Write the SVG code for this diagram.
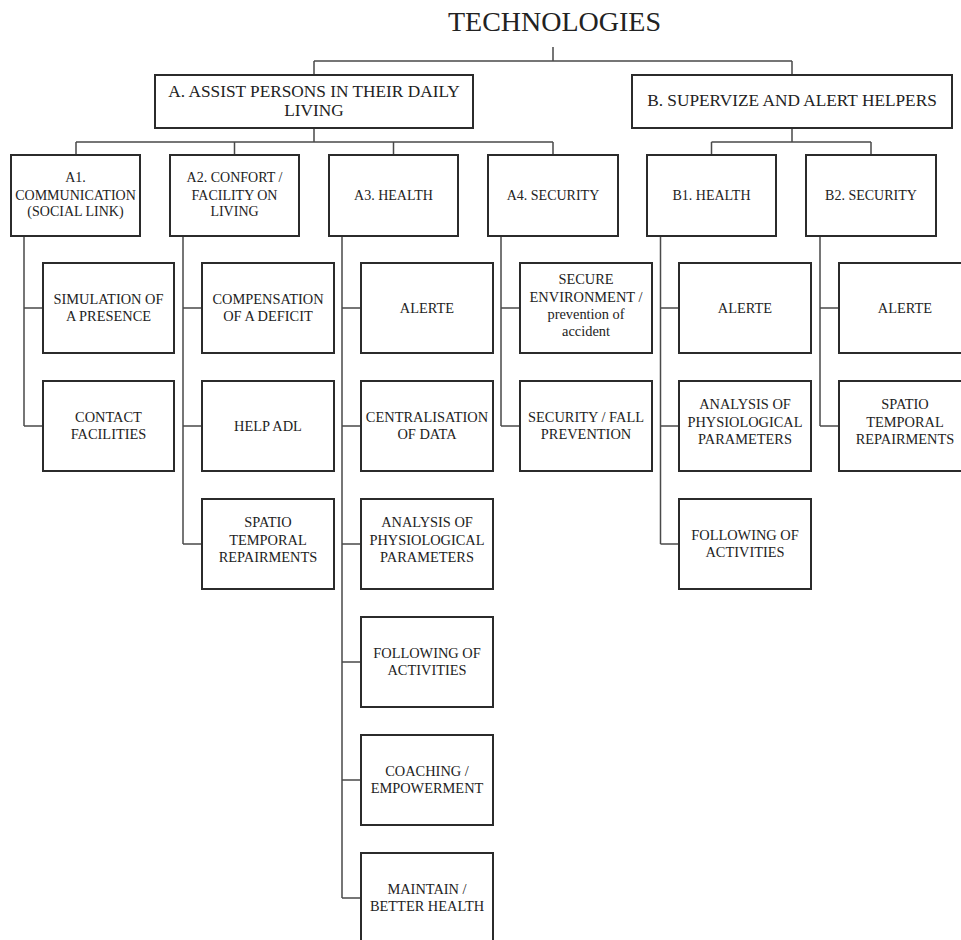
<svg xmlns="http://www.w3.org/2000/svg" width="961" height="940" viewBox="0 0 961 940">
<style>
.box{fill:#fff;stroke:#2b2b2b;stroke-width:2}
.con{fill:none;stroke:#4a4a4a;stroke-width:1.5}
text{font-family:"Liberation Serif","Times New Roman",serif;fill:#222;text-anchor:middle}
.t{font-size:28px}
.m{font-size:17.3px}
.s{font-size:14px}
.i{font-size:14.4px}
</style>
<rect width="961" height="940" fill="#fff"/>
<g id="connectors">
<path class="con" d="M553,47V61M314,61H792M314,61V75M792,61V75"/>
<path class="con" d="M314,128V142M76,142H553M76,142V155M234.5,142V155M393.5,142V155M553,142V155"/>
<path class="con" d="M792,128V142M711.5,142H871M711.5,142V155M871,142V155"/>
<path class="con" d="M24,236V426M24,308H43M24,426H43"/>
<path class="con" d="M183,236V544M183,308H202M183,426H202M183,544H202"/>
<path class="con" d="M342,236V898M342,308H361M342,426H361M342,544H361M342,662H361M342,780H361M342,898H361"/>
<path class="con" d="M501,236V426M501,308H520M501,426H520"/>
<path class="con" d="M660.5,236V544M660.5,308H679M660.5,426H679M660.5,544H679"/>
<path class="con" d="M820,236V426M820,308H839M820,426H839"/>
</g>
<g id="title"><text class="t" x="554.5" y="31">TECHNOLOGIES</text></g>
<g id="A"><rect class="box" x="155" y="75" width="318" height="53"/><text class="m" x="314" y="97">A. ASSIST PERSONS IN THEIR DAILY</text><text class="m" x="314" y="116">LIVING</text></g>
<g id="B"><rect class="box" x="632" y="75" width="320" height="53"/><text class="m" x="792" y="106">B. SUPERVIZE AND ALERT HELPERS</text></g>
<g id="A1"><rect class="box" x="11" y="155" width="129" height="81"/><text class="s" x="75.5" y="182">A1.</text><text class="s" x="75.5" y="199.5">COMMUNICATION</text><text class="s" x="75.5" y="216">(SOCIAL LINK)</text></g>
<g id="A2"><rect class="box" x="170" y="155" width="129" height="81"/><text class="s" x="234.5" y="182">A2. CONFORT /</text><text class="s" x="234.5" y="199.5">FACILITY ON</text><text class="s" x="234.5" y="216">LIVING</text></g>
<g id="A3"><rect class="box" x="329" y="155" width="129" height="81"/><text class="s" x="393.5" y="199.5">A3. HEALTH</text></g>
<g id="A4"><rect class="box" x="488" y="155" width="130" height="81"/><text class="s" x="553" y="199.5">A4. SECURITY</text></g>
<g id="B1"><rect class="box" x="647" y="155" width="129" height="81"/><text class="s" x="711.5" y="199.5">B1. HEALTH</text></g>
<g id="B2"><rect class="box" x="806" y="155" width="130" height="81"/><text class="s" x="871" y="199.5">B2. SECURITY</text></g>
<g id="A1-1"><rect class="box" x="43" y="263" width="131" height="90"/><text class="i" x="108.5" y="303.5">SIMULATION OF</text><text class="i" x="108.5" y="320.5">A PRESENCE</text></g>
<g id="A1-2"><rect class="box" x="43" y="381" width="131" height="90"/><text class="i" x="108.5" y="421.5">CONTACT</text><text class="i" x="108.5" y="438.5">FACILITIES</text></g>
<g id="A2-1"><rect class="box" x="202" y="263" width="132" height="90"/><text class="i" x="268" y="303.5">COMPENSATION</text><text class="i" x="268" y="320.5">OF A DEFICIT</text></g>
<g id="A2-2"><rect class="box" x="202" y="381" width="132" height="90"/><text class="i" x="268" y="430.5">HELP ADL</text></g>
<g id="A2-3"><rect class="box" x="202" y="499" width="132" height="90"/><text class="i" x="268" y="527">SPATIO</text><text class="i" x="268" y="545">TEMPORAL</text><text class="i" x="268" y="562">REPAIRMENTS</text></g>
<g id="A3-1"><rect class="box" x="361" y="263" width="132" height="90"/><text class="i" x="427" y="312.5">ALERTE</text></g>
<g id="A3-2"><rect class="box" x="361" y="381" width="132" height="90"/><text class="i" x="427" y="421.5">CENTRALISATION</text><text class="i" x="427" y="438.5">OF DATA</text></g>
<g id="A3-3"><rect class="box" x="361" y="499" width="132" height="90"/><text class="i" x="427" y="527">ANALYSIS OF</text><text class="i" x="427" y="545">PHYSIOLOGICAL</text><text class="i" x="427" y="562">PARAMETERS</text></g>
<g id="A3-4"><rect class="box" x="361" y="617" width="132" height="90"/><text class="i" x="427" y="657.5">FOLLOWING OF</text><text class="i" x="427" y="674.5">ACTIVITIES</text></g>
<g id="A3-5"><rect class="box" x="361" y="735" width="132" height="90"/><text class="i" x="427" y="775.5">COACHING /</text><text class="i" x="427" y="792.5">EMPOWERMENT</text></g>
<g id="A3-6"><rect class="box" x="361" y="853" width="132" height="90"/><text class="i" x="427" y="893.5">MAINTAIN /</text><text class="i" x="427" y="910.5">BETTER HEALTH</text></g>
<g id="A4-1"><rect class="box" x="520" y="263" width="132" height="90"/><text class="i" x="586" y="284">SECURE</text><text class="i" x="586" y="302">ENVIRONMENT /</text><text class="i" x="586" y="319">prevention of</text><text class="i" x="586" y="336">accident</text></g>
<g id="A4-2"><rect class="box" x="520" y="381" width="132" height="90"/><text class="i" x="586" y="421.5">SECURITY / FALL</text><text class="i" x="586" y="438.5">PREVENTION</text></g>
<g id="B1-1"><rect class="box" x="679" y="263" width="132" height="90"/><text class="i" x="745" y="312.5">ALERTE</text></g>
<g id="B1-2"><rect class="box" x="679" y="381" width="132" height="90"/><text class="i" x="745" y="409">ANALYSIS OF</text><text class="i" x="745" y="427">PHYSIOLOGICAL</text><text class="i" x="745" y="444">PARAMETERS</text></g>
<g id="B1-3"><rect class="box" x="679" y="499" width="132" height="90"/><text class="i" x="745" y="539.5">FOLLOWING OF</text><text class="i" x="745" y="556.5">ACTIVITIES</text></g>
<g id="B2-1"><rect class="box" x="839" y="263" width="132" height="90"/><text class="i" x="905" y="312.5">ALERTE</text></g>
<g id="B2-2"><rect class="box" x="839" y="381" width="132" height="90"/><text class="i" x="905" y="409">SPATIO</text><text class="i" x="905" y="427">TEMPORAL</text><text class="i" x="905" y="444">REPAIRMENTS</text></g>
</svg>
